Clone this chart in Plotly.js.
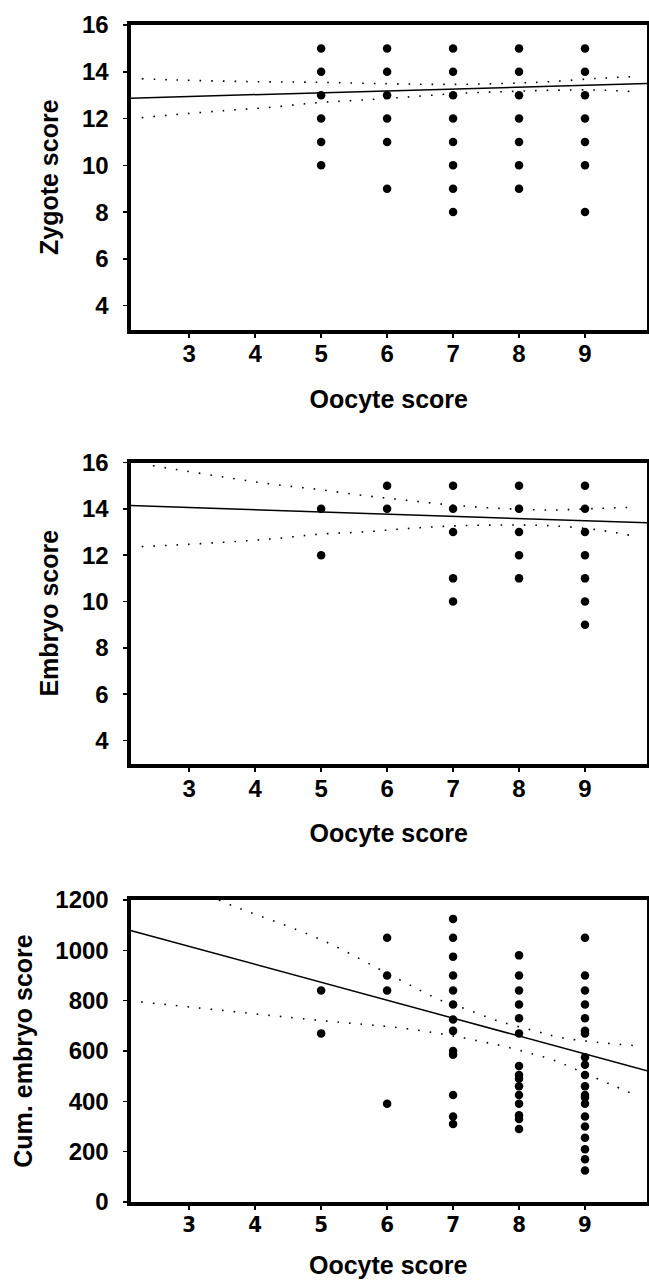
<!DOCTYPE html>
<html>
<head>
<meta charset="utf-8">
<script src="https://cdn.plot.ly/plotly-3.0.1.min.js"></script>
<style>
html,body{margin:0;padding:0;background:#fff;}
#chart{width:649px;height:1280px;}
</style>
</head>
<body>
<div id="chart"></div>
<script>
// ---------- Data ----------
const xTicks = [3, 4, 5, 6, 7, 8, 9];
const scoreTicks = [4, 6, 8, 10, 12, 14, 16];
const cumTicks = [0, 200, 400, 600, 800, 1000, 1200];

const p1Oocyte = [5,5,5,5,5,5, 6,6,6,6,6,6, 7,7,7,7,7,7,7,7, 8,8,8,8,8,8,8, 9,9,9,9,9,9,9];
const p1Zygote = [15,14,13,12,11,10, 15,14,13,12,11,9, 15,14,13,12,11,10,9,8, 15,14,13,12,11,10,9, 15,14,13,12,11,10,8];
const p1FitX = [2.11, 9.94];
const p1FitY = [12.87, 13.50];
const p1UpX = [2.28, 2.8, 3.89, 4.95, 6.0, 6.87, 7.78, 8.48, 9.2, 9.73];
const p1UpY = [13.70, 13.65, 13.58, 13.55, 13.49, 13.46, 13.50, 13.58, 13.72, 13.79];
const p1LoX = [2.28, 2.8, 3.53, 4.23, 4.95, 5.6, 6.36, 7.11, 7.79, 8.48, 9.2, 9.73];
const p1LoY = [12.04, 12.17, 12.34, 12.48, 12.68, 12.79, 12.93, 13.08, 13.15, 13.21, 13.22, 13.15];

const p2Oocyte = [5,5, 6,6, 7,7,7,7,7, 8,8,8,8,8, 9,9,9,9,9,9,9];
const p2Embryo = [14,12, 15,14, 15,14,13,11,10, 15,14,13,12,11, 15,14,13,12,11,10,9];
const p2FitX = [2.11, 9.94];
const p2FitY = [14.14, 13.40];
const p2UpX = [2.45, 2.8, 3.53, 4.24, 4.95, 5.66, 6.36, 7.07, 7.78, 8.49, 9.2, 9.73];
const p2UpY = [15.86, 15.70, 15.37, 15.07, 14.84, 14.57, 14.35, 14.14, 14.01, 13.95, 14.02, 14.07];
const p2LoX = [2.28, 2.8, 3.53, 4.24, 4.95, 5.66, 6.36, 7.07, 7.78, 8.49, 9.2, 9.73];
const p2LoY = [12.37, 12.44, 12.56, 12.70, 12.90, 13.01, 13.16, 13.27, 13.30, 13.27, 13.09, 12.83];

const p3Oocyte = [5,5,
  6,6,6,6,
  7,7,7,7,7,7,7,7,7,7,7,7,7,
  8,8,8,8,8,8,8,8,8,8,8,8,8,8,8,
  9,9,9,9,9,9,9,9,9,9,9,9,9,9,9,9,9,9,9,9];
const p3Cum = [840,670,
  1050,900,840,390,
  1125,1050,975,900,840,785,725,680,600,585,425,340,310,
  980,900,840,785,730,670,540,505,490,460,425,390,345,330,290,
  1050,900,840,785,730,680,670,575,545,505,460,425,415,390,340,300,255,210,170,125];
const p3FitX = [2.11, 9.94];
const p3FitY = [1079, 521];
const p3UpX = [3.45, 3.65, 5.0, 6.14, 6.85, 7.2, 7.7, 8.27, 8.62, 9.17, 9.88];
const p3UpY = [1200, 1178, 1042, 890, 797, 766, 718, 678, 654, 635, 619];
const p3LoX = [2.27, 5.0, 6.19, 6.89, 7.4, 7.77, 8.14, 8.5, 8.86, 9.39, 9.74];
const p3LoY = [795, 721, 692, 665, 639, 619, 593, 566, 527, 467, 428];

const xTitle = 'Oocyte score';

// ---------- Styling ----------
const W = 649, H = 1280;
const FONT = 'Liberation Sans, Arial, sans-serif';
const NARROW = 'Liberation Sans Narrow, DejaVu Sans Condensed, Liberation Sans, sans-serif';
const xDom = [130.5 / W, 647 / W];
function yDom(top, bottom) { return [1 - bottom / H, 1 - top / H]; }
const titleFont = {family: FONT, size: 25, color: '#000', weight: 'bold'};

const dotMarker = {color: '#000', size: 8.5, symbol: 'circle'};
const fitLine = {color: '#000', width: 1.5};
const ciLine = {color: '#000', width: 1.6, dash: '1.6px,10px', shape: 'spline'};

function pts(x, y, ax) {
  return {x: x, y: y, xaxis: 'x' + ax, yaxis: 'y' + ax, type: 'scatter', mode: 'markers',
          marker: dotMarker, hoverinfo: 'x+y', showlegend: false};
}
function line(x, y, ax, style) {
  return {x: x, y: y, xaxis: 'x' + ax, yaxis: 'y' + ax, type: 'scatter', mode: 'lines',
          line: style, hoverinfo: 'skip', showlegend: false};
}

const data = [
  line(p1UpX, p1UpY, '', ciLine), line(p1LoX, p1LoY, '', ciLine),
  line(p1FitX, p1FitY, '', fitLine), pts(p1Oocyte, p1Zygote, ''),
  line(p2UpX, p2UpY, '2', ciLine), line(p2LoX, p2LoY, '2', ciLine),
  line(p2FitX, p2FitY, '2', fitLine), pts(p2Oocyte, p2Embryo, '2'),
  line(p3UpX, p3UpY, '3', ciLine), line(p3LoX, p3LoY, '3', ciLine),
  line(p3FitX, p3FitY, '3', fitLine), pts(p3Oocyte, p3Cum, '3')
];

function xAxis(anchor, tickFamily, tickSize, titleText) {
  return {
    domain: xDom, anchor: anchor, range: [2.11, 9.94],
    tickmode: 'array', tickvals: xTicks, ticktext: xTicks.map(String),
    ticks: 'outside', ticklen: 4, tickwidth: 1.5, tickcolor: '#000',
    ticklabelstandoff: -4,
    tickfont: {family: tickFamily, size: tickSize, color: '#000', weight: 'bold'},
    showline: true, linewidth: 4, linecolor: '#000', mirror: true,
    showgrid: false, zeroline: false,
    title: {text: titleText, standoff: 25, font: titleFont}
  };
}
function yAxis(anchor, dom, range, ticks, titleText, fontSize) {
  return {
    domain: dom, anchor: anchor, range: range,
    tickmode: 'array', tickvals: ticks, ticktext: ticks.map(String),
    ticks: 'outside', ticklen: 4, tickwidth: 1.5, tickcolor: '#000',
    ticklabelstandoff: 9,
    tickfont: {family: FONT, size: fontSize, color: '#000', weight: 'bold'},
    showline: true, linewidth: 4, linecolor: '#000', mirror: true,
    showgrid: false, zeroline: false,
    title: {text: titleText, standoff: 17, font: titleFont}
  };
}

const layout = {
  width: W, height: H,
  margin: {l: 0, r: 0, t: 0, b: 0},
  paper_bgcolor: '#fff', plot_bgcolor: '#fff',
  showlegend: false,
  xaxis: xAxis('y', FONT, 24, xTitle),
  yaxis: yAxis('x', yDom(25, 329.5), [2.98, 16], scoreTicks, 'Zygote score', 24),
  xaxis2: xAxis('y2', FONT, 24, xTitle),
  yaxis2: yAxis('x2', yDom(462.5, 764), [2.99, 16], scoreTicks, 'Embryo score', 24),
  xaxis3: xAxis('y3', NARROW, 22, ''),
  yaxis3: yAxis('x3', yDom(900, 1202), [0, 1200], cumTicks, 'Cum. embryo score', 24),
  annotations: [{
    text: xTitle, xref: 'paper', yref: 'paper',
    x: ((xDom[0] + xDom[1]) / 2), y: 0,
    xanchor: 'center', yanchor: 'bottom', showarrow: false, font: titleFont, borderpad: 0
  }]
};

Plotly.newPlot('chart', data, layout, {staticPlot: true, displayModeBar: false});
</script>
</body>
</html>
